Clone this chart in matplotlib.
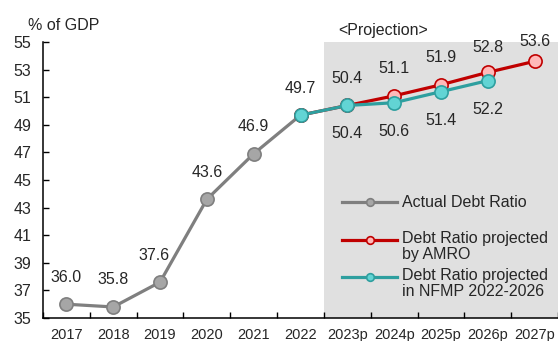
import numpy as np
import matplotlib.pyplot as plt
from matplotlib.lines import Line2D

plt.rcParams['font.family'] = ['Liberation Sans', 'DejaVu Sans']

years = ['2017', '2018', '2019', '2020', '2021', '2022',
         '2023p', '2024p', '2025p', '2026p', '2027p']
actual = [36.0, 35.8, 37.6, 43.6, 46.9, 49.7]
amro = [49.7, 50.4, 51.1, 51.9, 52.8, 53.6]
nfmp = [49.7, 50.4, 50.6, 51.4, 52.2]

x = np.arange(len(years))
x_act = x[:len(actual)]
x_amro = x[5:5 + len(amro)]
x_nfmp = x[5:5 + len(nfmp)]

grey_line, grey_face = '#7f7f7f', '#a6a6a6'
red_line, red_face = '#c00000', '#ffb9b9'
teal_line, teal_face = '#2e9f9f', '#62d4d4'
txt = '#262626'

fig = plt.figure(figsize=(5.58, 3.41), dpi=100)
ax = fig.add_axes([43/558, 1 - 318/341, 515/558, 276/341])

# projection period shading
ax.axvspan(5.5, 10.5, color='#e0e0e0', lw=0, zorder=0)

ms = 9.5
ax.plot(x_act, actual, color=grey_line, lw=2.3, marker='o', ms=ms,
        mfc=grey_face, mec=grey_line, mew=1.2, zorder=3)
ax.plot(x_amro, amro, color=red_line, lw=2.3, marker='o', ms=ms,
        mfc=red_face, mec=red_line, mew=1.2, zorder=4)
ax.plot(x_nfmp, nfmp, color=teal_line, lw=2.3, marker='o', ms=ms,
        mfc=teal_face, mec=teal_line, mew=1.2, zorder=5)

lab_kw = dict(textcoords='offset points', ha='center', va='center',
              fontsize=11.5, color=txt)
for xi, v in zip(x_act, actual):
    dx = -4 if v == 37.6 else 0
    ax.annotate(f'{v:.1f}', (xi, v), xytext=(dx, 19.5), **lab_kw)
for xi, v in zip(x_amro[1:], amro[1:]):
    if v == 52.8:
        ax.annotate(f'{v:.1f}', (xi, v), xytext=(0, 18), **lab_kw,
                    arrowprops=dict(arrowstyle='-', color='#a0a0a0', lw=0.8,
                                    shrinkA=7, shrinkB=0))
    elif v == 53.6:
        ax.annotate(f'{v:.1f}', (xi, v), xytext=(0, 14.5), **lab_kw)
    else:
        ax.annotate(f'{v:.1f}', (xi, v), xytext=(0, 19.5), **lab_kw)
for xi, v in zip(x_nfmp[1:], nfmp[1:]):
    ax.annotate(f'{v:.1f}', (xi, v), xytext=(0, -20.5), **lab_kw)

ax.set_xlim(-0.5, 10.5)
ax.set_ylim(35, 55)
ax.set_yticks(np.arange(35, 56, 2))
ax.set_xticks(x)
ax.set_xticklabels(years)
ax.set_xticks(np.arange(-0.5, 10.6, 1), minor=True)
ax.tick_params(axis='x', which='major', length=0, pad=7, labelsize=10.5,
               labelcolor=txt)
ax.tick_params(axis='x', which='minor', direction='in', length=4, width=1)
ax.tick_params(axis='y', direction='in', length=4, width=1, pad=8.5,
               labelsize=11.5, labelcolor=txt)
for s in ['top', 'right']:
    ax.spines[s].set_visible(False)
for s in ['left', 'bottom']:
    ax.spines[s].set_linewidth(1.1)
    ax.spines[s].set_color('#000000')

fig.text(28/558, 1 - 25/341, '% of GDP', fontsize=11.5, va='center',
         ha='left', color=txt)
fig.text(383/558, 1 - 30/341, '<Projection>', fontsize=11.5, va='center',
         ha='center', color=txt)

# legend, drawn by hand so the handle sits on the first text line
entries = [('Actual Debt Ratio', grey_line, grey_face, 0.420),
           ('Debt Ratio projected\nby AMRO', red_line, red_face, 0.283),
           ('Debt Ratio projected\nin NFMP 2022-2026', teal_line, teal_face, 0.149)]
for label, lc, fc, yy in entries:
    ax.add_line(Line2D([0.581, 0.687], [yy, yy], transform=ax.transAxes,
                       color=lc, lw=2.3, zorder=6))
    ax.add_line(Line2D([0.634], [yy], transform=ax.transAxes, marker='o',
                       ms=5.5, mfc=fc, mec=lc, mew=1.2, zorder=7))
    if '\n' in label:
        ax.text(0.697, yy + 0.033, label, transform=ax.transAxes, ha='left',
                va='top', fontsize=11.5, color=txt, linespacing=1.1)
    else:
        ax.text(0.697, yy, label, transform=ax.transAxes, ha='left',
                va='center', fontsize=11.5, color=txt)

plt.savefig('out.png', dpi=100)
